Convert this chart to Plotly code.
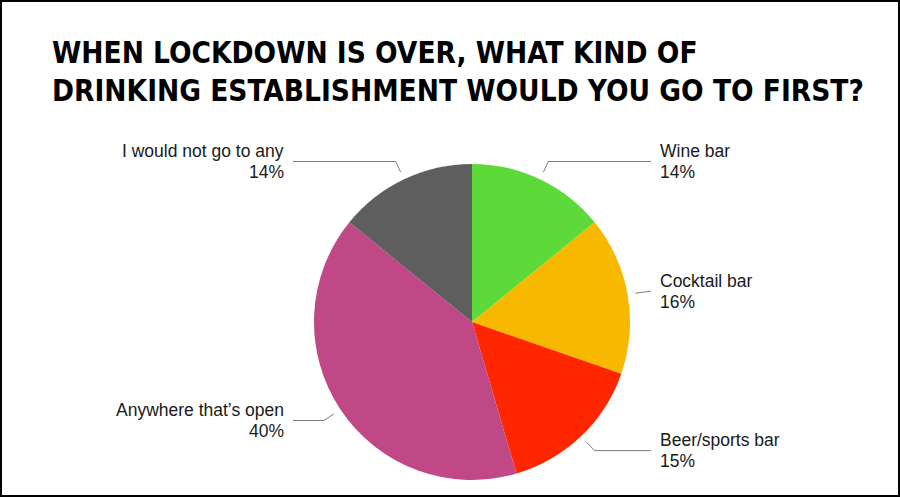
import plotly.graph_objects as go
import numpy as np

# Survey answers, clockwise from 12 o'clock
answers = ["Wine bar", "Cocktail bar", "Beer/sports bar", "Anywhere that’s open", "I would not go to any"]
shares = [14, 16, 15, 40, 14]
colors = ["#5DD93A", "#F6B900", "#FF2600", "#C04886", "#5E5E5E"]

title_lines = ["WHEN LOCKDOWN IS OVER, WHAT KIND OF", "DRINKING ESTABLISHMENT WOULD YOU GO TO FIRST?"]

W, H = 900, 497
cx, cy, r = 472, 322, 158  # pie centre / radius in pixels

fig = go.Figure()

fig.add_trace(go.Pie(
    labels=answers,
    values=shares,
    sort=False,
    direction="clockwise",
    rotation=0,
    marker=dict(colors=colors, line=dict(width=0)),
    textinfo="none",
    hoverinfo="label+percent",
    showlegend=False,
    domain=dict(x=[(cx - r) / W, (cx + r) / W], y=[1 - (cy + r) / H, 1 - (cy - r) / H]),
))

label_font = dict(family="Liberation Sans, Arial, sans-serif", size=17.5, color="#1a1a1a")

# leader lines and labels, placed from each slice's mid angle
total = sum(shares)
cum = np.cumsum(shares) - np.array(shares) / 2
annotations = []
for name, val, c in zip(answers, shares, cum):
    ang = 2 * np.pi * c / total
    sx, sy = np.sin(ang), -np.cos(ang)
    x0, y0 = cx + 1.05 * r * sx, cy + 1.05 * r * sy
    x1, y1 = cx + 1.125 * r * sx, cy + 1.125 * r * sy
    right = sx >= 0
    x2 = cx + 179 if right else cx - 179
    fig.add_trace(go.Scatter(
        x=[x0, x1, x2], y=[y0, y1, y1], mode="lines",
        line=dict(color="#7a7a7a", width=1),
        hoverinfo="skip", showlegend=False,
    ))
    for txt, dy in [(name, -10.5), (f"{val}%", 10.5)]:
        annotations.append(dict(
            x=cx + 186 if right else cx - 186, y=y1 + dy, xref="x", yref="y",
            text=txt, showarrow=False,
            xanchor="left" if right else "right", yanchor="middle",
            font=label_font,
        ))

annotations.append(dict(
    x=50, y=34, xref="x", yref="y",
    text="<br>".join(title_lines), showarrow=False,
    xanchor="left", yanchor="top", align="left",
    font=dict(family="DejaVu Sans Condensed, DejaVu Sans, sans-serif", size=29.5, color="#000000", weight="bold"),
))

fig.update_layout(
    width=W, height=H,
    margin=dict(l=0, r=0, t=0, b=0),
    paper_bgcolor="white", plot_bgcolor="white",
    xaxis=dict(range=[0, W], visible=False, fixedrange=True),
    yaxis=dict(range=[H, 0], visible=False, fixedrange=True),
    annotations=annotations,
    shapes=[dict(type="rect", xref="paper", yref="paper", x0=0, x1=1, y0=0, y1=1,
                 line=dict(color="#000000", width=4))],
)

fig.write_html("out.html", config={"displayModeBar": False},
               post_script="document.body.style.margin='0';document.body.style.overflow='hidden';")
